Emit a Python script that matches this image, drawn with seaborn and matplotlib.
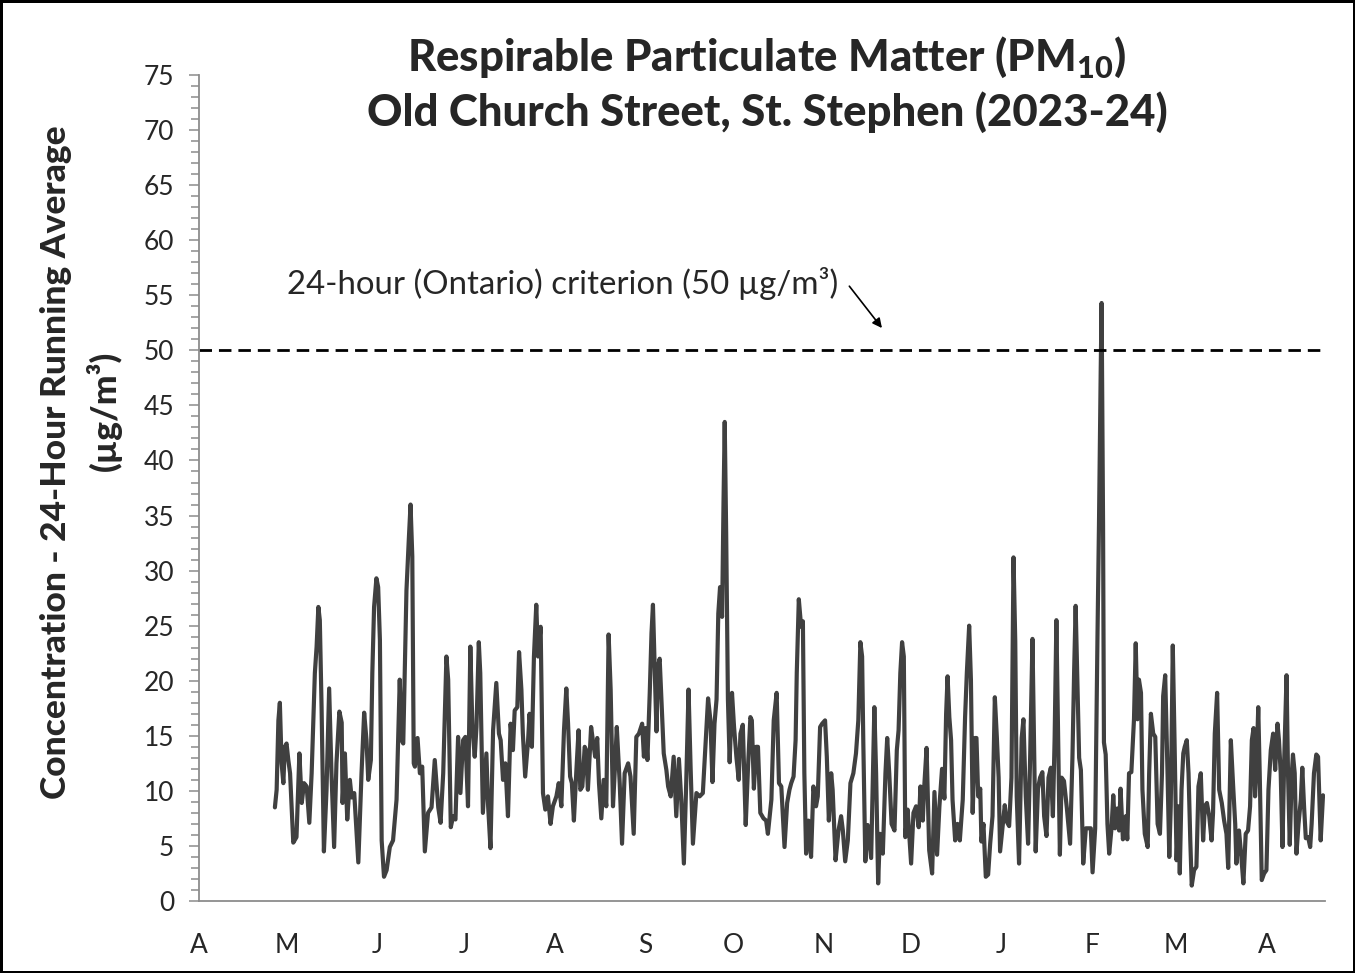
import matplotlib
matplotlib.use("Agg")
import matplotlib.pyplot as plt
import matplotlib.dates as mdates
import matplotlib.ticker as mticker
import seaborn as sns
import numpy as np
import pandas as pd

# days since 1 April 2023 and 24-h running average PM10 (ug/m3)
day_may_jun = [26.0, 26.6, 27.2, 27.7, 28.3, 28.9, 29.4, 30.0, 30.6, 31.2, 32.3, 33.4, 34.4, 35.2,
               36.0, 36.9, 37.8, 38.6, 39.7, 40.3, 40.9, 41.4, 42.0, 42.8, 43.7, 44.6, 45.4, 46.3,
               47.1, 48.1, 48.9, 49.2, 50.0, 50.8, 51.7, 52.3, 53.2, 54.6, 55.7, 56.6, 57.4, 58.0,
               58.9, 59.4, 60.0, 60.8, 61.4, 62.0, 62.6, 63.4, 64.3, 65.4, 66.5, 67.7, 68.8, 69.4,
               70.0, 70.5, 71.1, 71.9, 72.5, 73.1, 73.6, 74.0, 74.9, 75.7, 76.5, 77.4, 78.5, 79.7,
               80.8, 82.0, 82.8, 83.7]
pm_may_jun = [8.5, 10.1, 16.4, 18.0, 12.5, 10.7, 14.0, 14.3, 12.8, 11.6, 5.3, 5.8, 13.4, 8.9,
              10.7, 10.4, 7.1, 11.6, 20.7, 23.1, 26.7, 25.5, 17.6, 4.5, 10.1, 19.3, 11.6, 4.9,
              12.5, 17.2, 16.2, 8.9, 13.4, 7.4, 11.0, 9.4, 9.8, 3.5, 11.6, 17.1, 14.6, 11.0,
              12.8, 20.7, 26.7, 29.3, 28.5, 23.7, 5.5, 2.2, 2.8, 4.9, 5.5, 9.2, 20.1, 14.6,
              14.3, 20.7, 28.2, 32.8, 36.0, 31.3, 12.5, 12.2, 14.8, 11.6, 12.2, 4.5, 8.0, 8.5,
              12.8, 8.5, 7.1, 11.6]

day_jul_aug = [84.8, 85.4, 86.3, 87.1, 87.9, 88.8, 89.6, 90.5, 91.3, 92.2, 93.0, 93.7, 94.5, 95.1,
               95.9, 96.4, 97.3, 98.5, 99.1, 99.9, 100.8, 101.9, 102.8, 103.4, 104.2, 105.0, 105.9,
               106.8, 107.6, 108.2, 109.1, 109.7, 110.5, 111.0, 111.8, 112.8, 113.3, 114.1, 114.8,
               115.6, 116.2, 117.1, 117.9, 118.7, 119.6, 120.5, 121.3, 122.5, 123.3, 124.2, 125.1,
               125.9, 126.5, 127.2, 127.8, 128.5, 129.3, 130.1, 130.7, 131.4, 132.2, 132.7, 133.3,
               134.4, 135.0, 135.8, 136.5, 137.1, 137.9, 138.7, 139.6, 140.4, 141.1, 141.9, 142.7,
               143.2]
pm_jul_aug = [22.2, 20.1, 6.7, 7.7, 7.4, 14.9, 9.8, 14.6, 14.9, 8.6, 23.1, 15.8, 13.1, 15.8,
              23.5, 20.7, 8.0, 13.4, 8.6, 4.8, 15.5, 19.8, 15.2, 14.6, 11.0, 12.5, 7.7,
              16.1, 13.7, 17.3, 17.6, 22.6, 19.2, 15.2, 11.3, 14.6, 17.0, 14.0, 22.2,
              26.9, 22.2, 24.9, 9.8, 8.3, 9.5, 7.0, 8.6, 9.5, 10.7, 8.6, 15.5,
              19.3, 16.1, 11.3, 10.7, 7.3, 11.6, 15.5, 10.1, 10.4, 14.0, 13.7, 10.1,
              15.8, 14.6, 13.1, 14.8, 10.7, 7.5, 11.0, 8.6, 24.2, 19.2, 8.6, 12.8,
              15.8]

day_sep_oct = [144.2, 145.0, 145.9, 147.1, 147.9, 149.0, 149.9, 150.8, 151.9, 152.5, 153.1, 153.7,
               154.5, 155.1, 155.6, 156.2, 156.8, 157.3, 157.9, 158.5, 159.3, 160.2, 160.8, 161.7,
               162.7, 163.6, 164.5, 165.3, 166.2, 167.0, 167.8, 168.5, 169.3, 170.5, 171.6, 172.7,
               173.5, 174.5, 175.3, 176.0, 176.7, 177.4, 178.0, 178.6, 179.3, 179.8, 180.2, 180.7,
               181.3, 181.9, 182.7, 183.4, 184.2, 185.0, 185.6, 186.4, 187.4, 188.2, 189.0, 189.5,
               190.2, 191.0, 191.6, 192.4, 193.5, 194.4, 195.0, 196.2, 197.0, 198.0, 198.8, 199.6,
               200.7, 201.6, 202.4]
pm_sep_oct = [10.7, 5.2, 11.6, 12.5, 11.3, 6.1, 14.9, 15.2, 16.1, 13.1, 15.7, 12.8,
              18.9, 24.3, 26.9, 21.3, 15.4, 21.3, 22.0, 18.3, 13.4, 11.9, 10.4, 9.5,
              13.1, 7.7, 12.9, 9.2, 3.4, 10.7, 19.2, 12.2, 5.2, 9.8, 9.5, 9.8,
              13.7, 18.4, 16.4, 10.8, 16.1, 18.3, 26.1, 28.5, 25.8, 36.4, 43.5, 33.4,
              18.3, 12.6, 18.9, 15.8, 13.1, 11.0, 15.2, 16.0, 6.9, 12.2, 16.7, 16.4,
              10.2, 14.0, 14.0, 8.0, 7.5, 7.3, 6.1, 9.2, 16.4, 18.9, 10.7, 10.4,
              4.9, 8.9, 10.1]

day_nov_dec = [203.0, 203.8, 204.5, 204.9, 205.6, 206.4, 207.0, 207.5, 208.1, 208.9, 209.8, 210.6,
               211.5, 212.1, 212.9, 213.6, 214.6, 215.2, 215.9, 216.7, 217.2, 218.2, 219.2, 220.1,
               220.7, 221.5, 222.4, 223.3, 224.3, 225.2, 226.0, 226.7, 227.3, 227.7, 228.4, 229.2,
               230.4, 231.0, 231.5, 232.1, 232.8, 233.4, 234.4, 235.3, 235.9, 236.6, 237.4, 238.4,
               239.2, 239.8, 240.4, 241.0, 241.6, 242.1, 242.9, 244.1, 244.9, 245.8, 246.7, 247.3,
               248.1, 248.6, 249.4, 250.3, 251.3, 252.1, 253.0, 253.8, 254.7, 255.5, 256.1, 256.6,
               257.2, 257.8, 258.3, 259.2, 260.0, 260.8, 261.8]
pm_nov_dec = [10.7, 11.3, 14.6, 20.7, 27.4, 24.9, 25.4, 11.6, 4.3, 7.3, 4.0, 10.4,
              8.6, 9.5, 15.8, 16.1, 16.4, 13.1, 7.3, 11.6, 10.1, 3.7, 6.4, 7.7,
              6.4, 3.6, 5.5, 10.7, 11.6, 13.4, 16.4, 23.5, 22.2, 14.6, 3.6, 6.9,
              3.9, 11.6, 17.6, 11.6, 1.6, 6.1, 4.3, 11.6, 14.8, 11.6, 7.0, 6.4,
              13.7, 15.5, 20.7, 23.5, 22.2, 5.8, 8.3, 3.4, 8.0, 8.6, 6.7, 10.4,
              7.3, 10.4, 13.9, 4.6, 2.5, 9.9, 4.2, 8.6, 12.0, 9.3, 17.0, 20.4,
              16.7, 14.6, 9.2, 5.5, 7.0, 5.5, 9.2]

day_jan_feb = [262.6, 263.2, 264.0, 264.6, 265.2, 266.0, 266.5, 267.1, 267.8, 268.2, 268.9, 269.7,
               270.5, 271.2, 272.0, 272.8, 273.5, 274.1, 274.6, 275.4, 276.2, 276.9, 277.7, 278.5,
               279.2, 279.8, 280.3, 281.1, 282.0, 282.6, 283.4, 284.2, 284.9, 285.7, 286.3, 286.8,
               287.6, 288.3, 289.1, 289.7, 290.5, 291.2, 292.0, 292.7, 293.3, 293.9, 294.5, 295.1,
               295.7, 296.5, 297.5, 298.6, 299.4, 300.0, 300.5, 301.1, 301.7, 302.3, 303.1, 304.0,
               304.8, 305.7, 306.3, 307.2, 308.0, 308.5, 309.1, 309.4, 309.9, 310.2, 310.8, 311.4,
               312.0, 312.8, 313.4, 314.0, 314.8, 315.4, 315.9, 316.7, 317.7, 318.2, 318.8, 319.6,
               320.5, 321.1, 321.7, 322.2]
pm_jan_feb = [16.7, 20.7, 25.0, 20.1, 8.0, 14.8, 14.8, 9.5, 10.2, 5.4, 7.0, 2.2,
              2.4, 5.2, 7.7, 18.5, 14.8, 11.2, 4.5, 6.6, 8.7, 7.2, 6.8, 11.2,
              31.2, 23.6, 9.5, 3.4, 14.8, 16.5, 9.5, 5.2, 13.0, 23.8, 13.0, 4.5,
              10.2, 11.2, 11.7, 7.7, 5.9, 11.2, 12.1, 7.7, 14.8, 25.5, 14.8, 4.2,
              11.2, 10.9, 8.4, 5.2, 13.0, 21.1, 26.8, 20.1, 13.0, 11.9, 3.4, 6.6,
              6.6, 6.6, 2.6, 6.6, 24.3, 34.2, 48.3, 54.3, 34.2, 14.4, 13.3, 7.0,
              4.3, 6.6, 9.6, 6.6, 8.4, 6.4, 10.2, 5.6, 7.7, 5.6, 11.6, 11.7,
              16.5, 23.4, 16.5, 20.1]

day_mar_apr = [322.9, 323.4, 324.2, 325.2, 325.7, 326.3, 327.1, 327.8, 328.6, 329.4, 330.1, 330.5,
               331.2, 332.0, 332.6, 333.1, 333.8, 334.4, 335.1, 335.8, 336.2, 336.8, 337.4, 337.9,
               338.6, 339.2, 339.8, 340.3, 341.1, 341.9, 342.6, 343.4, 344.2, 344.8, 345.5, 346.3,
               347.1, 347.6, 348.2, 349.0, 349.7, 350.6, 351.4, 352.2, 352.8, 353.7, 354.5, 355.2,
               355.6, 356.5, 357.3, 358.0, 358.8, 359.6, 360.3, 360.9, 361.5, 362.0, 362.5, 363.1,
               363.6, 364.3, 365.1, 365.9, 366.6, 367.4, 368.2, 368.9, 369.7, 370.2, 370.8, 371.4,
               372.0, 372.8, 373.3, 373.9, 374.6, 375.0, 375.6, 376.2, 376.9, 377.7, 378.2, 378.8,
               379.4, 380.2, 380.9, 381.4, 382.2, 383.0, 383.6, 384.5, 385.3]
pm_mar_apr = [18.9, 10.1, 6.1, 4.9, 11.6, 17.0, 15.2, 14.9, 7.0, 6.1, 11.6, 18.6,
              20.5, 11.6, 4.0, 8.6, 23.2, 14.6, 3.7, 8.6, 2.5, 10.1, 13.4, 14.0,
              14.6, 11.6, 5.5, 1.4, 2.8, 3.1, 10.4, 11.6, 5.5, 8.6, 8.9, 7.7,
              5.5, 8.0, 15.2, 18.9, 10.1, 8.9, 7.3, 6.1, 3.0, 14.6, 10.4, 7.0,
              3.4, 6.4, 4.0, 1.6, 6.1, 6.4, 8.6, 14.6, 15.7, 9.5, 12.2, 17.6,
              11.6, 1.9, 2.5, 2.8, 10.1, 13.7, 15.2, 11.9, 16.1, 14.6, 11.6, 4.9,
              12.8, 20.5, 11.6, 5.1, 11.6, 13.3, 11.6, 4.3, 7.0, 9.2, 12.1, 8.6,
              5.7, 5.8, 4.9, 7.0, 11.6, 13.3, 13.1, 5.5, 9.6]

start = pd.Timestamp("2023-04-01")
end = pd.Timestamp("2024-04-21")
criterion = 50

days = np.concatenate([day_may_jun, day_jul_aug, day_sep_oct, day_nov_dec, day_jan_feb, day_mar_apr])
pm = np.concatenate([pm_may_jun, pm_jul_aug, pm_sep_oct, pm_nov_dec, pm_jan_feb, pm_mar_apr])
df = pd.DataFrame({"date": start + pd.to_timedelta(days, unit="D"), "pm10": pm})

sns.set_style("white")
plt.rcParams["font.family"] = ["Lato", "DejaVu Sans"]
plt.rcParams["mathtext.fontset"] = "custom"
plt.rcParams["mathtext.rm"] = "Lato"
plt.rcParams["mathtext.bf"] = "Lato:black"

fig = plt.figure(figsize=(13.55, 9.73), dpi=100)
fig.patch.set_edgecolor("black")
fig.patch.set_linewidth(2.5)
ax = fig.add_axes([0.1469, 0.0740, 0.8310, 0.8489])

sns.lineplot(data=df, x="date", y="pm10", ax=ax, color="#404040", linewidth=3.0)
ax.axhline(criterion, color="black", linestyle=(0, (4.5, 2.5)), linewidth=2.0)

ax.set_xlim(start, end)
ax.set_ylim(0, 75)
ax.set_xlabel("")
ax.set_ylabel("")

ax.yaxis.set_major_locator(mticker.MultipleLocator(5))
ax.yaxis.set_minor_locator(mticker.MultipleLocator(1))
ax.xaxis.set_major_locator(mdates.MonthLocator())
ax.xaxis.set_major_formatter(mticker.FuncFormatter(lambda v, p: mdates.num2date(v).strftime("%b")[0]))

for s in ["top", "right"]:
    ax.spines[s].set_visible(False)
for s in ["left", "bottom"]:
    ax.spines[s].set_color("#8c8c8c")
    ax.spines[s].set_linewidth(1.3)
ax.tick_params(axis="y", which="major", left=True, direction="out", length=7, width=1.1,
               color="#8c8c8c", labelsize=19, pad=11)
ax.tick_params(axis="y", which="minor", left=True, direction="out", length=6, width=1.1, color="#8c8c8c")
ax.tick_params(axis="x", length=0, labelsize=19, pad=23)

title_kw = dict(ha="center", va="center", fontsize=31.5, fontweight="black")
fig.text(0.566, 0.941, r"Respirable Particulate Matter (PM$_{\mathbf{10}}$)", **title_kw)
fig.text(0.566, 0.885, "Old Church Street, St. Stephen (2023-24)", **title_kw)

fig.text(0.041, 0.525, "Concentration - 24-Hour Running Average", rotation=90, ha="center", va="center",
         fontsize=25.5, fontweight="black")
fig.text(0.077, 0.578, "(µg/m³)", rotation=90, ha="center", va="center", fontsize=25.5, fontweight="black")

ax.annotate("24-hour (Ontario) criterion (50 µg/m³)", xy=(0.608, 0.691), xytext=(0.078, 0.748),
            xycoords="axes fraction", textcoords="axes fraction", fontsize=23.8, va="center", ha="left")
ax.annotate("", xy=(0.608, 0.691), xytext=(0.576, 0.747), xycoords="axes fraction",
            textcoords="axes fraction",
            arrowprops=dict(arrowstyle="-|>", color="black", lw=1.2, mutation_scale=14))

fig.savefig("out.png", dpi=100)
